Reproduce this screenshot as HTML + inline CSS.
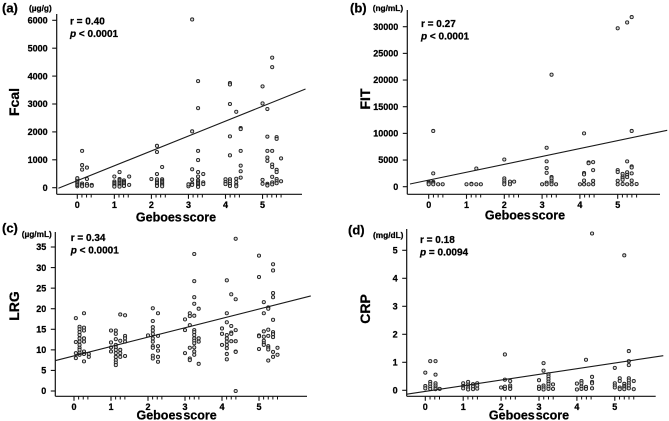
<!DOCTYPE html>
<html lang="en">
<head>
<meta charset="utf-8">
<title>Biomarkers versus Geboes score</title>
<style>
html,body{margin:0;padding:0;background:#fff;}
body{width:669px;height:421px;overflow:hidden;}
svg{display:block;filter:blur(0.3px);}
text{font-family:"Liberation Sans",sans-serif;font-weight:bold;fill:#000;stroke:#000;stroke-width:0.25px;}
</style>
</head>
<body>
<svg id="figure" xmlns="http://www.w3.org/2000/svg" width="669" height="421" viewBox="0 0 669 421"></svg>
<script>
const xTickLabels = [0, 1, 2, 3, 4, 5];
const minorTickOffsets = [0.125, 0.25, 0.375];

const fcalTicks = [0, 1000, 2000, 3000, 4000, 5000, 6000];
const fcalLineX = [-0.51, 6.16];
const fcalLineY = [-20, 3538];
const fcalScores = [0, 0.13, 0.26, 0.39, 1, 1.14, 1.26, 1.4, 2, 2.15, 2.29, 3, 3.1, 3.26, 3.4, 4, 4.12, 4.29, 4.41, 5, 5.13, 5.26, 5.38, 5.5];
const fcalValues = [
  [50, 100, 150, 200, 250, 300, 340],
  [1320, 810, 650, 150, 100, 50],
  [720, 310, 130, 70],
  [100, 70],
  [400, 220, 170, 120, 70, 40],
  [560, 310, 270, 220, 170, 120, 70, 40],
  [260, 210, 160, 110, 60],
  [400, 100],
  [310],
  [1500, 1280, 490, 300, 220, 170, 110, 60],
  [740, 300, 250, 200, 150, 100, 50],
  [50, 120],
  [6030, 2020, 660, 290, 150, 100],
  [3820, 2850, 1320, 990, 560, 400, 270, 220, 170, 120, 70, 30],
  [490, 190, 130],
  [300, 200, 130],
  [3750, 3700, 3000, 1840, 1160, 300, 220, 130, 60],
  [2720, 320, 200, 100, 50],
  [2140, 2100, 1320, 790, 590, 360],
  [3630, 3020, 280, 140],
  [2820, 1830, 1320, 1080, 960, 140, 100, 80],
  [4660, 4320, 1320, 830, 740, 390, 190, 120],
  [1810, 1750, 640, 560, 310, 230, 160],
  [1050, 230]
];

const fitTicks = [0, 5000, 10000, 15000, 20000, 25000, 30000];
const fitLineX = [-0.495, 6.31];
const fitLineY = [506, 10573];
const fitScores = [0, 0.12, 0.25, 0.37, 1, 1.13, 1.26, 1.38, 2, 2.15, 2.26, 3, 3.12, 3.25, 3.37, 4, 4.11, 4.23, 4.35, 5, 5.13, 5.25, 5.37, 5.5];
const fitValues = [
  [900, 700, 450],
  [10450, 2500, 900, 700, 450],
  [450],
  [450],
  [450],
  [550, 450],
  [3400, 450],
  [450],
  [5100, 1550, 1150, 750, 450],
  [950, 450],
  [950],
  [450],
  [7300, 4750, 3500, 2600, 750, 450],
  [21000, 1800, 1550, 1100, 750, 450],
  [450],
  [450],
  [10000, 2550, 2300, 1150, 450],
  [4550, 4400, 450],
  [4600, 3100, 1100, 450],
  [29700, 3100, 2750, 1100, 450],
  [2400, 1900, 1600, 1300, 500],
  [30800, 4750, 2700, 2200, 1800, 450],
  [31800, 10450, 3800, 3600, 2500, 1150, 450],
  [500]
];

const lrgTicks = [0, 5, 10, 15, 20, 25, 30, 35];
const lrgLineX = [-0.5, 6.4];
const lrgLineY = [7.4, 23.1];
const lrgScores = [0.05, 0.15, 0.27, 0.4, 1, 1.13, 1.25, 1.38, 2, 2.13, 2.27, 3, 3.13, 3.25, 3.37, 4, 4.13, 4.25, 4.37, 5, 5.13, 5.25, 5.38, 5.5];
const lrgValues = [
  [17.7, 11.9, 9.2, 8],
  [15.6, 15, 14.3, 13.6, 12.8, 12, 11.2, 10.5, 10, 9.3, 8.8],
  [18.9, 15.4, 14.7, 12.8, 12, 9.6, 9, 7.2],
  [9, 8.3],
  [14.7, 11.8, 10.6, 9.6],
  [14.7, 13.9, 12.6, 11.2, 10.6, 10, 9.2, 8.3, 7.5, 6.9, 6.3],
  [18.6, 12.2, 10, 9.2, 8.3],
  [18.4, 13.4, 12.8, 12, 8.5],
  [13.5],
  [20.1, 17, 15.5, 14.7, 13.9, 12.8, 12, 10.9, 10.5, 8.6, 7.9],
  [18.9, 13.4, 10.9, 9.8, 8.3, 7.1],
  [17.4, 14.8, 9.2],
  [18.9, 18.2, 16, 10.5, 7.9, 7.5],
  [33.3, 26.7, 22.8, 21.2, 18.3, 14.8, 14.3, 13.6, 12.8, 12.2, 11.6, 10.6, 9.6, 8.8],
  [20, 12.8, 12, 6.6],
  [15.2, 13.9, 11.2],
  [26.9, 18.9, 16.7, 13.6, 12.8, 12, 11.2, 10.4, 9, 7.7],
  [23.5, 15.8, 14.2, 13.9, 12.1],
  [37, 22.3, 14.8, 12.1, 9.6, 9.5, 0],
  [32.9, 27.7, 13.5, 13.3, 10.2],
  [21.6, 18.9, 14.5, 13.2, 12.2, 11.6, 11.2],
  [20.3, 20, 14.9, 13.4, 10.9, 10.5, 10.1, 7.4],
  [30.8, 29.3, 23.8, 22.8, 17.3, 14.3, 13.8, 13.1, 9.5, 8.3],
  [10.5, 8.8]
];

const crpTicks = [0, 1, 2, 3, 4, 5];
const crpLineX = [-0.49, 6.28];
const crpLineY = [-0.14, 1.236];
const crpScores = [0, 0.13, 0.27, 0.38, 1, 1.13, 1.26, 1.37, 2, 2.1, 2.24, 3, 3.12, 3.25, 3.37, 4, 4.12, 4.24, 4.4, 5, 5.13, 5.25, 5.37, 5.5];
const crpValues = [
  [0.63, 0.15, 0.07],
  [1.04, 0.3, 0.22, 0.13, 0.05],
  [1.04, 0.56, 0.25, 0.17, 0.1, 0.04],
  [0.05],
  [0.25, 0.15, 0.07],
  [0.3, 0.2, 0.1, 0.03],
  [0.22, 0.13, 0.04],
  [0.25, 0.17, 0.06],
  [0.1],
  [1.28, 0.38, 0.13, 0.05],
  [0.33, 0.17, 0.1, 0.05],
  [0.36, 0.13, 0.05],
  [0.97, 0.7, 0.17, 0.1, 0.03],
  [0.57, 0.49, 0.4, 0.31, 0.23, 0.13, 0.05],
  [0.21, 0.05],
  [0.24, 0.03],
  [0.33, 0.25, 0.13, 0.05],
  [1.09, 0.12, 0.05],
  [5.6, 0.48, 0.3, 0.25, 0.07],
  [0.8, 0.25, 0.17, 0.1],
  [0.43, 0.33, 0.1, 0.04],
  [4.82, 0.23, 0.15, 0.1, 0.04],
  [1.4, 1.04, 0.9, 0.43, 0.35, 0.25, 0.17, 0.07],
  [0.33, 0.04]
];

const svg = document.getElementById('figure');
const NS = 'http://www.w3.org/2000/svg';

function make(parent, tag, attrs, content) {
  const el = document.createElementNS(NS, tag);
  for (const k in attrs) el.setAttribute(k, attrs[k]);
  if (content !== undefined) el.textContent = content;
  parent.appendChild(el);
  return el;
}

function drawPanel(cfg) {
  const g = make(svg, 'g', {});
  
  
  const sx = function (v) { return cfg.x0 + v * cfg.xUnit; };
  const sy = function (v) { return cfg.y0 - v * cfg.yUnit; };
  const stroke = '#111';

  const yAxis = make(g, 'line', { x1: cfg.axisX, x2: cfg.axisX, y1: cfg.top, y2: cfg.bottom, stroke: stroke, 'stroke-width': 1.2 });
  
  
  const xAxis = make(g, 'line', { x1: cfg.axisX, x2: cfg.right, y1: cfg.bottom, y2: cfg.bottom, stroke: stroke, 'stroke-width': 1.2 });
  
  

  cfg.yTicks.forEach(function (t) {
    const tick = make(g, 'line', { x1: cfg.axisX - 4.5, x2: cfg.axisX, y1: sy(t), y2: sy(t), stroke: stroke, 'stroke-width': 1.1 });
    
    
    const lab = make(g, 'text', { x: cfg.axisX - 9, y: sy(t) + 3.2, 'font-size': 9, 'text-anchor': 'end' }, t);
    
    
  });

  xTickLabels.forEach(function (t) {
    const tick = make(g, 'line', { x1: sx(t), x2: sx(t), y1: cfg.bottom, y2: cfg.bottom + 4.5, stroke: stroke, 'stroke-width': 1.1 });
    
    
    const offs = t === 5 ? minorTickOffsets.concat([0.5]) : minorTickOffsets;
    offs.forEach(function (o) {
      const m = make(g, 'line', { x1: sx(t + o), x2: sx(t + o), y1: cfg.bottom, y2: cfg.bottom + 3.2, stroke: stroke, 'stroke-width': 1 });
      
      
    });
    const lab = make(g, 'text', { x: sx(t), y: cfg.bottom + 13.5, 'font-size': 9, 'text-anchor': 'middle' }, t);
    
    
  });

  cfg.scores.forEach(function (s, i) {
    cfg.values[i].forEach(function (v) {
      const p = make(g, 'circle', { cx: sx(s), cy: sy(v), r: 1.6, fill: '#d8d8d8', stroke: '#222', 'stroke-width': 0.9 });
      
      
    });
  });

  const fit = make(g, 'line', { x1: sx(cfg.lineX[0]), y1: sy(cfg.lineY[0]), x2: sx(cfg.lineX[1]), y2: sy(cfg.lineY[1]), stroke: '#1a1a1a', 'stroke-width': 1.1 });
  
  

  const letter = make(g, 'text', { x: cfg.letterX, y: cfg.letterY, 'font-size': 13 }, cfg.letter);
  
  

  const unit = make(g, 'text', { x: cfg.unitX, y: cfg.unitY, 'font-size': 8.3 }, cfg.unit);
  
  

  const rText = make(g, 'text', { x: cfg.statX, y: cfg.statY, 'font-size': 10 }, cfg.rText);
  
  

  const pText = make(g, 'text', { x: cfg.statX, y: cfg.statY + 12.3, 'font-size': 10 });
  
  
  make(pText, 'tspan', { 'font-style': 'italic' }, 'p');
  make(pText, 'tspan', {}, cfg.pText);

  const yTitle = make(g, 'text', { x: cfg.yTitleX, y: cfg.yTitleY, 'font-size': 14, 'text-anchor': 'middle', transform: 'rotate(-90 ' + cfg.yTitleX + ' ' + cfg.yTitleY + ')' }, cfg.yTitle);
  
  

  const xTitle = make(g, 'text', { x: cfg.xTitleX, y: cfg.xTitleY, 'font-size': 12.5, 'text-anchor': 'middle', 'word-spacing': '-2.5px' }, 'Geboes score');
  
  
}

drawPanel({
  name: 'fcal', letter: '(a)', letterX: 2, letterY: 12.5, unit: '(µg/g)', unitX: 29, unitY: 11,
  rText: 'r = 0.40', pText: ' < 0.0001', statX: 70, statY: 24.5,
  yTitle: 'Fcal', yTitleX: 19, yTitleY: 102, xTitleX: 176, xTitleY: 221.5,
  axisX: 56.7, top: 14, bottom: 194.3, right: 302,
  x0: 77.3, xUnit: 37.05, y0: 187.7, yUnit: 0.02790,
  yTicks: fcalTicks, scores: fcalScores, values: fcalValues, lineX: fcalLineX, lineY: fcalLineY
});
drawPanel({
  name: 'fit', letter: '(b)', letterX: 350, letterY: 12.5, unit: '(ng/mL)', unitX: 372.7, unitY: 11,
  rText: 'r = 0.27', pText: ' < 0.0001', statX: 421, statY: 27,
  yTitle: 'FIT', yTitleX: 370, yTitleY: 99, xTitleX: 525, xTitleY: 219.5,
  axisX: 407.3, top: 10, bottom: 194.3, right: 660,
  x0: 428.7, xUnit: 37.8, y0: 186.7, yUnit: 0.005333,
  yTicks: fitTicks, scores: fitScores, values: fitValues, lineX: fitLineX, lineY: fitLineY
});
drawPanel({
  name: 'lrg', letter: '(c)', letterX: 2, letterY: 232.5, unit: '(µg/mL)', unitX: 21.7, unitY: 237,
  rText: 'r = 0.34', pText: ' < 0.0001', statX: 70.7, statY: 241,
  yTitle: 'LRG', yTitleX: 19, yTitleY: 306, xTitleX: 176.6, xTitleY: 419.5,
  axisX: 55.3, top: 232, bottom: 396.3, right: 307,
  x0: 74, xUnit: 37, y0: 391, yUnit: 4.114,
  yTicks: lrgTicks, scores: lrgScores, values: lrgValues, lineX: lrgLineX, lineY: lrgLineY
});
drawPanel({
  name: 'crp', letter: '(d)', letterX: 348, letterY: 234.5, unit: '(mg/dL)', unitX: 373, unitY: 238,
  rText: 'r = 0.18', pText: ' = 0.0094', statX: 420, statY: 243.2,
  yTitle: 'CRP', yTitleX: 370, yTitleY: 309, xTitleX: 529, xTitleY: 419.5,
  axisX: 406.7, top: 229, bottom: 396.3, right: 655.7,
  x0: 425.3, xUnit: 37.9, y0: 390.3, yUnit: 28,
  yTicks: crpTicks, scores: crpScores, values: crpValues, lineX: crpLineX, lineY: crpLineY
});
</script>
</body>
</html>
